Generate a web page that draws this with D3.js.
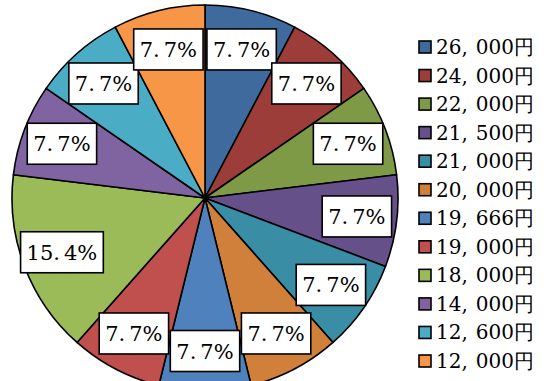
<!DOCTYPE html>
<html>
<head>
<meta charset="utf-8">
<script src="https://cdn.jsdelivr.net/npm/d3@7/dist/d3.min.js"></script>
<style>
  html, body { margin: 0; padding: 0; background: #fff; }
  svg { display: block; }
  text { font-family: 'DejaVu Serif', serif; }
</style>
</head>
<body>
<div id="chart"></div>
<script>
'use strict';

// categories (legend order = slice order, clockwise from 12 o'clock)
var categories = ['26,000円', '24,000円', '22,000円', '21,500円', '21,000円', '20,000円',
                  '19,666円', '19,000円', '18,000円', '14,000円', '12,600円', '12,000円'];
// counts per category (percentages shown are share of 13)
var counts = [1, 1, 1, 1, 1, 1, 1, 1, 2, 1, 1, 1];
var colors = ['#3e6a9e', '#9d3d3a', '#7f9a46', '#665089', '#398ea5', '#d1803b',
              '#4f81bd', '#c0504d', '#9bbb59', '#8064a2', '#4bacc6', '#f79646'];

var width = 546, height = 381;
var cx = 205, cy = 198, radius = 193;

var svg = d3.select('#chart').append('svg')
    .attr('width', width)
    .attr('height', height);

var data = categories.map(function (c, i) {
    return { name: c, value: counts[i], color: colors[i] };
});
var total = d3.sum(counts);

var pie = d3.pie()
    .value(d => d.value)
    .sort(null);

var arc = d3.arc()
    .innerRadius(0)
    .outerRadius(radius);

var labelArc = d3.arc()
    .innerRadius(153)
    .outerRadius(153);

var g = svg.append('g')
    .attr('transform', 'translate(' + cx + ',' + cy + ')');

var arcs = pie(data);

g.selectAll('path.slice')
    .data(arcs)
    .enter()
    .append('path')
    .attr('class', 'slice')
    .attr('d', arc)
    .style('fill', d => d.data.color)
    .style('stroke', '#000')
    .style('stroke-width', 1.6)
    .style('stroke-linejoin', 'round');

// split a string after a separator so the gap can be widened like the original
function splitAfter(s, sep) {
    var i = s.indexOf(sep);
    return i < 0 ? [s] : [s.slice(0, i + 1), s.slice(i + 1)];
}

// labels with white boxes
var fmt = d3.format('.1%');
var labels = g.selectAll('g.label')
    .data(arcs)
    .enter()
    .append('g')
    .attr('class', 'label')
    .attr('transform', d => 'translate(' + labelArc.centroid(d) + ')');

labels.append('rect');
labels.append('text')
    .attr('text-anchor', 'middle')
    .attr('dy', '0.36em')
    .attr('font-size', 21)
    .attr('fill', '#000')
    .selectAll('tspan')
    .data(d => splitAfter(fmt(d.data.value / total), '.'))
    .enter()
    .append('tspan')
    .attr('dx', (d, i) => i > 0 ? 4 : 0)
    .text(d => d);

labels.each(function () {
    var t = d3.select(this).select('text');
    var b = t.node().getBBox();
    var padX = 6, h = 41;
    d3.select(this).select('rect')
        .attr('x', b.x - padX)
        .attr('y', -h / 2)
        .attr('width', b.width + padX * 2)
        .attr('height', h)
        .style('fill', '#fff')
        .style('stroke', '#000')
        .style('stroke-width', 1.6);
});

// legend
var legendY = d3.scalePoint()
    .domain(categories)
    .range([47, 361]);

var legend = svg.append('g')
    .selectAll('g')
    .data(data)
    .enter()
    .append('g')
    .attr('transform', d => 'translate(419,' + legendY(d.name) + ')');

legend.append('rect')
    .attr('x', 0)
    .attr('y', -6)
    .attr('width', 12)
    .attr('height', 12)
    .style('fill', d => d.color)
    .style('stroke', '#000')
    .style('stroke-width', 1.6);

legend.append('text')
    .attr('x', 17)
    .attr('y', 7)
    .attr('font-size', 20)
    .attr('fill', '#000')
    .selectAll('tspan')
    .data(d => splitAfter(d.name, ','))
    .enter()
    .append('tspan')
    .attr('dx', (d, i) => i > 0 ? 8 : 0)
    .text(d => d);
</script>
</body>
</html>
